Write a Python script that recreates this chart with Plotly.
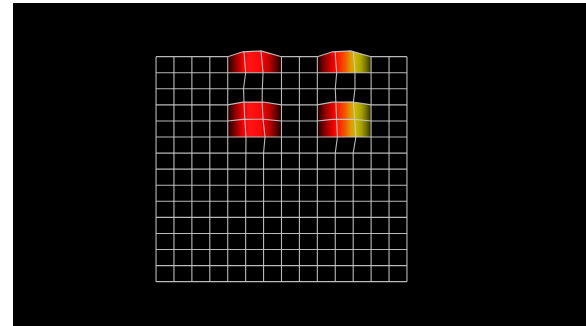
import numpy as np
import plotly.graph_objects as go

# ---- data ----
n_cols = 14
n_rows = 14

patch_x0 = [4, 9, 4, 9]
patch_x1 = [7, 12, 7, 12]
patch_y0 = [0, 0, 3, 3]
patch_y1 = [1, 1, 5, 5]
patch_scale = ["A", "B", "A", "B"]

profile_frac = [0.0, 0.28, 0.62, 1.0]
bulge_top = [0.0, -0.30, -0.36, 0.0]
bulge_low = [0.0, -0.17, -0.20, 0.0]
bulge_mid = [0.0, -0.10, -0.12, 0.0]
row_bulge = {0: bulge_top, 3: bulge_low, 4: bulge_mid}

warp_cols = [5, 6, 10, 11]
warp_rows = [0, 1, 2, 3, 4, 5]
warp_dx = [
    [-0.09, 0.00, -0.12, -0.10, -0.05, 0.02],
    [-0.14, -0.03, -0.07, -0.08, -0.03, 0.08],
    [-0.01, 0.08, 0.00, 0.03, 0.06, 0.12],
    [0.01, 0.10, 0.10, 0.01, 0.08, 0.15],
]

scale_A = [
    [0.0, "#1a0000"], [0.14, "#8a0000"], [0.28, "#f00000"], [0.4, "#ff1414"],
    [0.6, "#fa0a0a"], [0.76, "#c80000"], [0.9, "#640000"], [1.0, "#1a0000"],
]
scale_B = [
    [0.0, "#1a0000"], [0.14, "#8a0000"], [0.3, "#f00000"], [0.42, "#ff2a00"],
    [0.52, "#f05a00"], [0.62, "#e09a00"], [0.72, "#c8b800"], [0.82, "#a8a200"],
    [0.92, "#6a6a00"], [1.0, "#2a2a00"],
]
scales = {"A": scale_A, "B": scale_B}


def offset(x, r):
    prof = row_bulge.get(r)
    if prof is None:
        return 0.0
    for x0, x1, y0 in zip(patch_x0, patch_x1, patch_y0):
        if y0 == r or (r == 4 and y0 == 3):
            if x0 <= x <= x1:
                return float(np.interp((x - x0) / (x1 - x0), profile_frac, prof))
    return 0.0


fig = go.Figure()

# patches
for x0, x1, y0, y1, sc in zip(patch_x0, patch_x1, patch_y0, patch_y1, patch_scale):
    prof = row_bulge[y0]
    px = [x0 + f * (x1 - x0) for f in profile_frac] + [x1, x0]
    py = [y0 + b for b in prof] + [y1, y1]
    fig.add_trace(go.Scatter(
        x=px, y=py, mode="lines", fill="toself",
        line=dict(width=0, color="rgba(0,0,0,0)"),
        fillgradient=dict(type="horizontal", colorscale=scales[sc]),
        hoverinfo="skip",
    ))

# grid lines
gx, gy = [], []
for r in range(n_rows + 1):
    xs = set(range(n_cols + 1))
    if r in row_bulge:
        for x0, x1, y0 in zip(patch_x0, patch_x1, patch_y0):
            if y0 == r or (r == 4 and y0 == 3):
                xs.update(x0 + f * (x1 - x0) for f in profile_frac)
    for x in sorted(xs):
        gx.append(x)
        gy.append(r + offset(x, r))
    gx.append(None)
    gy.append(None)

for c in range(n_cols + 1):
    for r in range(n_rows + 1):
        dx = 0.0
        if c in warp_cols and r in warp_rows:
            dx = warp_dx[warp_cols.index(c)][r]
        gx.append(c + dx)
        gy.append(r + offset(c, r))
    gx.append(None)
    gy.append(None)

fig.add_trace(go.Scatter(
    x=gx, y=gy, mode="lines",
    line=dict(color="rgba(205,205,205,0.9)", width=1.1),
    hoverinfo="skip",
))

fig.update_layout(
    width=586, height=326,
    margin=dict(l=13, r=0, t=3, b=0),
    paper_bgcolor="black", plot_bgcolor="black",
    showlegend=False,
    xaxis=dict(visible=False, range=[-7.98, 23.99], fixedrange=True),
    yaxis=dict(visible=False, range=[16.76, -3.34], fixedrange=True),
    shapes=[
        dict(type="rect", xref="paper", yref="paper", x0=-0.1, x1=0,
             y0=-0.2, y1=1.2, fillcolor="white", line=dict(width=0), layer="above"),
        dict(type="rect", xref="paper", yref="paper", x0=-0.1, x1=1.2,
             y0=1, y1=1.2, fillcolor="white", line=dict(width=0), layer="above"),
    ],
)

fig.write_html(
    "out.html",
    config={"displayModeBar": False, "staticPlot": True},
    post_script=(
        "document.body.style.margin='0';document.body.style.padding='0';"
        "document.body.style.overflow='hidden';"
        "document.documentElement.style.overflow='hidden';"
        "document.body.style.background='black';"
    ),
)
